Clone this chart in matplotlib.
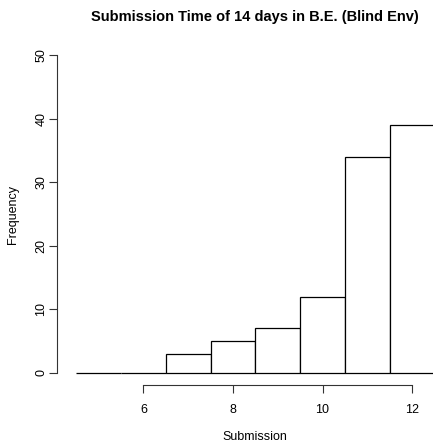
import matplotlib
matplotlib.use("Agg")
import matplotlib.pyplot as plt

# histogram of submission day (centres of 1-day bins) and frequencies
days = [5, 6, 7, 8, 9, 10, 11, 12]
counts = [0, 0, 3, 5, 7, 12, 34, 39]
x_ticks = [6, 8, 10, 12]
y_ticks = [0, 10, 20, 30, 40, 50]

plt.rcParams['font.family'] = ['Liberation Sans', 'DejaVu Sans']

W, H = 433, 447
fig = plt.figure(figsize=(W / 100, H / 100), dpi=100)
# plot region in pixels (R style: axes set off from data)
left, right, top, bottom = 57, 447, 42, 385
ax = fig.add_axes([left / W, (H - bottom) / H, (right - left) / W, (bottom - top) / H])

ax.bar(days, counts, width=1.0, color='white', edgecolor='black', linewidth=0.9)

ax.set_xlim(4.07, 12.78)
ax.set_ylim(-1.9, 52.05)

for s in ['top', 'right']:
    ax.spines[s].set_visible(False)
ax.spines['left'].set_bounds(0, 50)
ax.spines['bottom'].set_bounds(6, 12)
for s in ['left', 'bottom']:
    ax.spines[s].set_linewidth(0.8)
    ax.spines[s].set_color('#333333')

ax.set_xticks(x_ticks)
ax.set_yticks(y_ticks)
ax.tick_params(length=6, width=0.8, color='#333333', labelsize=9)
ax.tick_params(axis='x', pad=8)
ax.tick_params(axis='y', pad=1)
ax.set_yticklabels([str(v) for v in y_ticks], rotation=90, va='center')

fig.text(255 / W, 1 - 17 / H, 'Submission Time of 14 days in B.E. (Blind Env)',
         ha='center', va='center', fontsize=10.5, fontweight='bold')
fig.text(255 / W, 1 - 437 / H, 'Submission', ha='center', va='center', fontsize=9)
fig.text(13 / W, 1 - 215 / H, 'Frequency', ha='center', va='center', fontsize=9, rotation=90)

fig.savefig('out.png', dpi=100)
